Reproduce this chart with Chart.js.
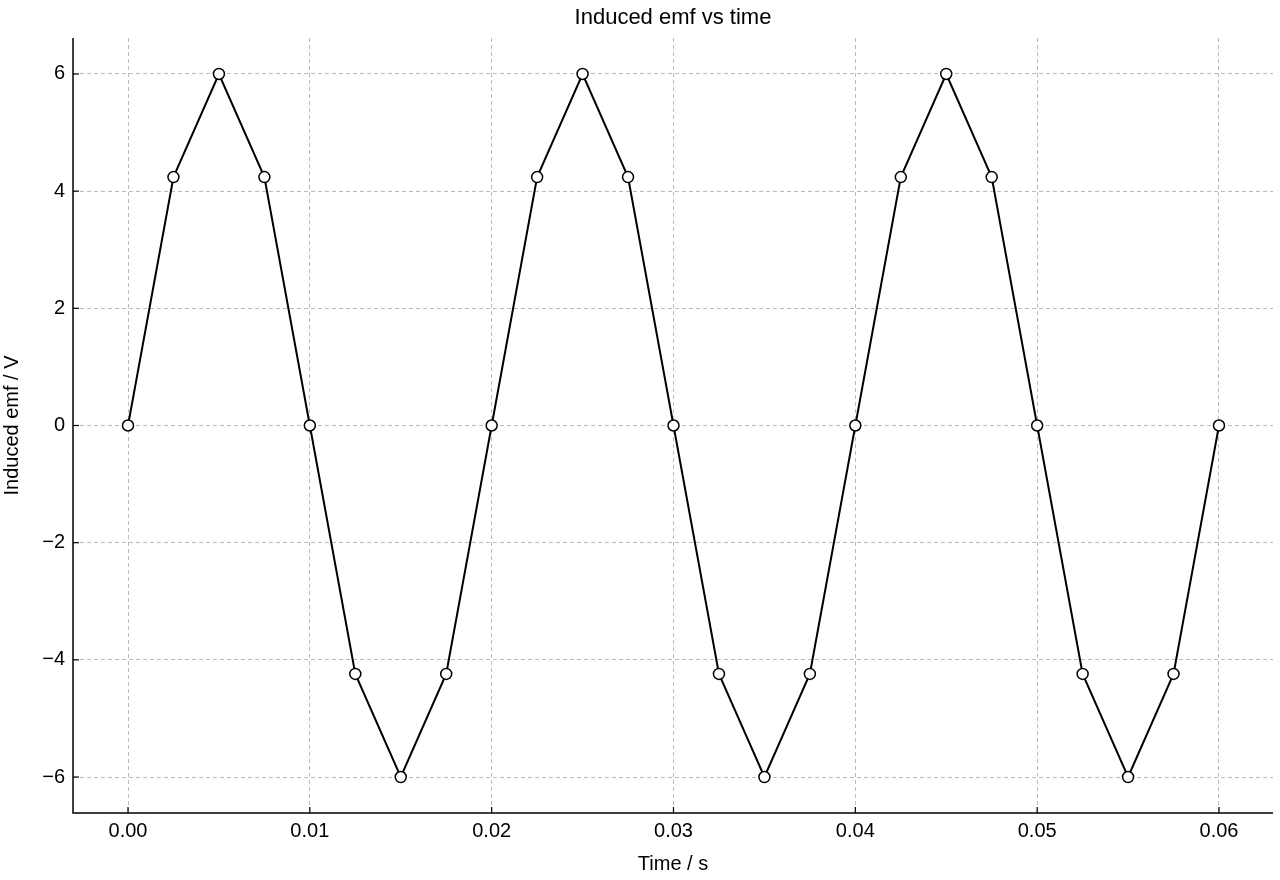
<!DOCTYPE html>
<html><head><meta charset="utf-8">
<script src="https://cdn.jsdelivr.net/npm/chart.js@4/dist/chart.umd.min.js"></script>
<style>html,body{margin:0;padding:0;background:#fff}#w{width:1280px;height:880px}</style>
</head><body><div id="w"><canvas id="c"></canvas></div>
<script>
const times = [0,0.0025,0.005,0.0075,0.01,0.0125,0.015,0.0175,0.02,0.0225,0.025,0.0275,0.03,0.0325,0.035,0.0375,0.04,0.0425,0.045,0.0475,0.05,0.0525,0.055,0.0575,0.06];
const emf = [0,4.24,6,4.24,0,-4.24,-6,-4.24,0,4.24,6,4.24,0,-4.24,-6,-4.24,0,4.24,6,4.24,0,-4.24,-6,-4.24,0];
const xTicks = [0,0.01,0.02,0.03,0.04,0.05,0.06];
const yTicks = [-6,-4,-2,0,2,4,6];
const titleText = 'Induced emf vs time';
const xLabel = 'Time / s';
const yLabel = 'Induced emf / V';
const F = '"Liberation Sans", Arial, sans-serif';
const fmt = v => (v<0?'\u2212':'')+Math.abs(v);
const deco = {id:'deco', afterDraw(ch){
  const c=ch.ctx, a=ch.chartArea, sx=ch.scales.x, sy=ch.scales.y;
  c.save(); c.strokeStyle='#000'; c.lineWidth=1.5;
  c.beginPath(); c.moveTo(a.left,a.top); c.lineTo(a.left,a.bottom); c.lineTo(a.right,a.bottom); c.stroke();
  c.lineWidth=1.2;
  xTicks.forEach(t=>{const x=sx.getPixelForValue(t); c.beginPath(); c.moveTo(x,a.bottom); c.lineTo(x,a.bottom-6); c.stroke();});
  yTicks.forEach(t=>{const y=sy.getPixelForValue(t); c.beginPath(); c.moveTo(a.left,y); c.lineTo(a.left+6,y); c.stroke();});
  c.fillStyle='#000'; c.font='22px '+F; c.textAlign='center'; c.textBaseline='middle';
  c.fillText(titleText,(a.left+a.right)/2,18);
  c.restore();
}};
new Chart(document.getElementById('c'),{
  type:'scatter',
  data:{datasets:[{data:times.map((t,i)=>({x:t,y:emf[i]})),showLine:true,borderColor:'#000',borderWidth:2,
    pointBackgroundColor:'#fff',pointBorderColor:'#000',pointBorderWidth:1.5,pointRadius:5.5,pointHoverRadius:5.5}]},
  options:{responsive:true,maintainAspectRatio:false,animation:false,
    layout:{padding:{top:38,right:7,left:0,bottom:0}},
    plugins:{legend:{display:false},tooltip:{enabled:false}},
    scales:{
      x:{type:'linear',min:-0.003025,max:0.06297,
        afterBuildTicks(s){s.ticks=xTicks.map(v=>({value:v}));},
        afterFit(s){s.height=67;},
        ticks:{font:{family:F,size:20},color:'#000',padding:6,callback:v=>v.toFixed(2)},
        grid:{color:'#bbb',lineWidth:1,drawTicks:false,tickBorderDash:[]},border:{display:false,dash:[4,3]},
        title:{display:true,text:xLabel,font:{family:F,size:20},color:'#000',padding:{top:2,bottom:4}}},
      y:{type:'linear',min:-6.614,max:6.614,
        afterBuildTicks(s){s.ticks=yTicks.map(v=>({value:v}));},
        afterFit(s){s.width=73;},
        ticks:{font:{family:F,size:20},color:'#000',padding:8,callback:v=>fmt(v)},
        grid:{color:'#bbb',lineWidth:1,drawTicks:false},border:{display:false,dash:[4,3]},
        title:{display:true,text:yLabel,font:{family:F,size:20},color:'#000',padding:{top:0,bottom:4}}}
    }},
  plugins:[deco]
});
</script></body></html>
